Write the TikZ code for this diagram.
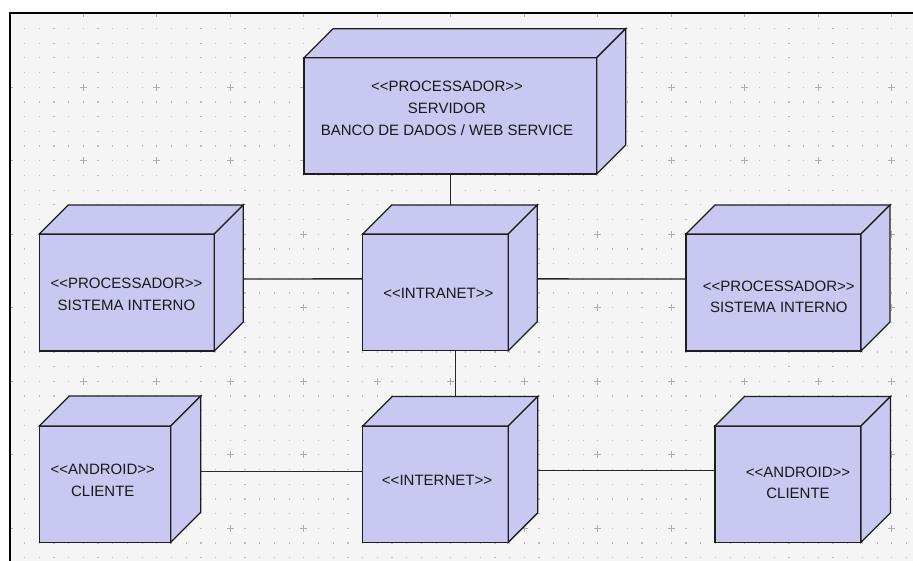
\documentclass[tikz,border=0pt]{standalone}
\usepackage{fontspec}
\setmainfont{Liberation Sans}
\definecolor{bgc}{RGB}{245,245,245}
\definecolor{dotc}{RGB}{190,190,190}
\definecolor{plusc}{RGB}{175,175,175}
\definecolor{cubefill}{RGB}{200,200,240}
\definecolor{edgec}{RGB}{30,30,30}
\definecolor{linec}{RGB}{40,40,40}
\definecolor{textc}{RGB}{25,25,25}
\pgfdeclarelayer{grid}
\pgfdeclarelayer{wires}
\pgfsetlayers{grid,wires,main}
% deployment node drawn as a box: front face (a named node), top and right side
% #1 name, #2 left, #3 top, #4 right, #5 bottom, #6 depth
\newcommand\cubenode[6]{%
  \node[face, minimum width={(#4-#2)*1pt}, minimum height={(#5-#3)*1pt}] (#1) at ({(#2+#4)/2},{(#3+#5)/2}) {};
  \path[cube] (#1.north west) -- ++(#6,-#6) -- ([shift={(#6,-#6)}]#1.north east) -- (#1.north east) -- cycle;
  \path[cube] (#1.north east) -- ++(#6,-#6) -- ([shift={(#6,-#6)}]#1.south east) -- (#1.south east) -- cycle;
}
\newcommand\st[1]{<{}<#1>{}>}
\begin{document}
\begin{tikzpicture}[x=1pt,y=-1pt,
  cube/.style={draw=edgec, fill=cubefill, line width=1.3pt, line join=miter},
  face/.style={cube, rectangle, inner sep=0pt, outer sep=0pt},
  link/.style={draw=linec, line width=1.3pt},
  nodetext/.style={text=textc, font=\fontsize{15}{21.7}\selectfont, align=center, inner sep=0pt},
  ]
\useasboundingbox (0,0) rectangle (913,561);

% paper with a dotted drawing grid and a cross every fifth point
\begin{pgfonlayer}{grid}
\fill[white] (0,0) rectangle (913,561);
\fill[bgc] (10,13) rectangle (913,561);
\begin{scope}
  \clip (10,14) rectangle (913,561);
  \foreach \i in {0,...,62}{
    \foreach \j in {0,...,37}{
      \fill[dotc] ({9.8+14.7*\i-0.6},{13.8+14.7*\j-0.6}) rectangle ++(1.2,1.2);
    }
  }
  \foreach \i in {0,5,...,60}{
    \foreach \j in {0,5,...,35}{
      \draw[plusc, line width=0.8pt]
        ({9.8+14.7*\i-3.5},{13.8+14.7*\j}) -- ++(7,0)
        ({9.8+14.7*\i},{13.8+14.7*\j-3.5}) -- ++(0,7);
    }
  }
\end{scope}
\draw[black, line width=2pt] (10,561) -- (10,13.3) -- (913,13.3);
\end{pgfonlayer}

% boxes
\cubenode{srv}{304}{57.7}{596.7}{174}{29}
\cubenode{lp}{39.3}{234}{214.3}{351}{29}
\cubenode{intr}{362.7}{234}{508.3}{350.7}{29}
\cubenode{rp}{686}{234}{861}{351}{29}
\cubenode{la}{39.3}{426}{170.7}{542.3}{30}
\cubenode{inet}{362.7}{426}{508.3}{542.3}{29.5}
\cubenode{ra}{715}{426}{861}{542.3}{29.5}

% connectors, kept below the boxes
\begin{pgfonlayer}{wires}
\draw[link] (srv.south) -- (srv.south |- intr.north);
\draw[link] ([yshift=13.5pt]lp.east) -- ([yshift=13.5pt]intr.west);
\draw[link] ([yshift=13.5pt]intr.east) -- ([yshift=13.5pt]rp.west);
\draw[link] ([xshift=20pt]intr.south) -- ([xshift=20pt]intr.south |- inet.north);
\draw[link] ([yshift=12.6pt]la.east) -- ([yshift=12.6pt]inet.west);
\draw[link] ([yshift=14pt]inet.east) -- ([yshift=14pt]ra.west);
\end{pgfonlayer}

% texts
\node[nodetext] (srvt)  at (447,108.3)   {\st{PROCESSADOR}\\SERVIDOR\\BANCO DE DADOS / WEB SERVICE};
\node[nodetext] (lpt)   at (126.5,294.2) {\st{PROCESSADOR}\\SISTEMA INTERNO};
\node[nodetext] (intrt) at (438.3,293.3) {\st{INTRANET}};
\node[nodetext] (rpt)   at (778.8,296.7) {\st{PROCESSADOR}\\SISTEMA INTERNO};
\node[nodetext] (lat)   at (102.8,480.2) {\st{ANDROID}\\CLIENTE};
\node[nodetext] (inett) at (437,480)     {\st{INTERNET}};
\node[nodetext] (rat)   at (798,482.8)   {\st{ANDROID}\\CLIENTE};
\end{tikzpicture}
\end{document}
